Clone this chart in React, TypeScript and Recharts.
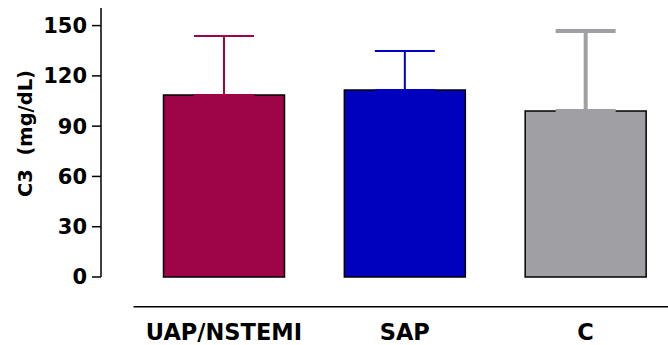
import React from 'react';
import { BarChart, Bar, XAxis, YAxis, Cell, ErrorBar, Label } from 'recharts';

// Groups and their complement C3 levels (mean with upper SD)
const groups = ['UAP/NSTEMI', 'SAP', 'C'];
const means = [108.6, 111.6, 99.1];
const sds = [35.2, 23.3, 47.7];
const yTicks = [0, 30, 60, 90, 120, 150];

const fills = ['#9E0548', '#0000BF', '#A0A0A4'];
const errWidths = [2, 2, 4];

const rows = groups.map((g, i) => {
  const row: Record<string, unknown> = { group: g, mean: means[i] };
  row[`err${i}`] = [0, sds[i]];
  return row;
});

const font = 'DejaVu Sans, Verdana, sans-serif';

export default function App() {
  return (
    <div style={{ position: 'fixed', left: 0, top: 0, width: 668, height: 345, overflow: 'hidden', background: '#fff' }}>
      <BarChart
        width={676}
        height={345}
        data={rows}
        margin={{ top: 8, right: 0, bottom: 0, left: 0 }}
      >
        {/* outer axes carry the drawn lines, ticks and labels */}
        <XAxis
          xAxisId="b_outer"
          dataKey="group"
          height={38.3}
          axisLine={{ stroke: '#000', strokeWidth: 1.5 }}
          tickLine={false}
          tickSize={0}
          tickMargin={17}
          interval={0}
          tick={{ fontFamily: font, fontWeight: 'bold', fontSize: 22.5, fill: '#000' }}
        />
        <YAxis
          yAxisId="b_outer"
          width={101}
          domain={[0, 160.5]}
          ticks={yTicks}
          interval={0}
          axisLine={{ stroke: '#000', strokeWidth: 1.5 }}
          tickLine={{ stroke: '#000', strokeWidth: 1.5 }}
          tickSize={9}
          tickMargin={5}
          tick={{ fontFamily: font, fontWeight: 'bold', fontSize: 21, fill: '#000' }}
        >
          <Label
            value={'C3\u00A0\u00A0(mg/dL)'}
            angle={-90}
            position="center"
            dx={-25.5}
            dy={-9}
            style={{ fontFamily: font, fontWeight: 'bold', fontSize: 19.5, fill: '#000' }}
          />
        </YAxis>
        {/* inner spacer axes keep the bars clear of the drawn axes */}
        <XAxis
          xAxisId="a_inner"
          dataKey="group"
          height={29.7}
          axisLine={false}
          tickLine={false}
          tick={false}
        />
        <YAxis
          yAxisId="a_inner"
          width={32.5}
          domain={[0, 160.5]}
          ticks={yTicks}
          axisLine={false}
          tickLine={false}
          tick={false}
        />
        <Bar
          dataKey="mean"
          xAxisId="a_inner"
          yAxisId="b_outer"
          barSize={121}
          stroke="#000"
          strokeWidth={1.5}
          isAnimationActive={false}
        >
          {rows.map((_, i) => (
            <Cell key={i} fill={fills[i]} />
          ))}
          {groups.map((_, i) => (
            <ErrorBar
              key={i}
              dataKey={`err${i}`}
              direction="y"
              width={30}
              stroke={fills[i]}
              strokeWidth={errWidths[i]}
              isAnimationActive={false}
            />
          ))}
        </Bar>
      </BarChart>
    </div>
  );
}
